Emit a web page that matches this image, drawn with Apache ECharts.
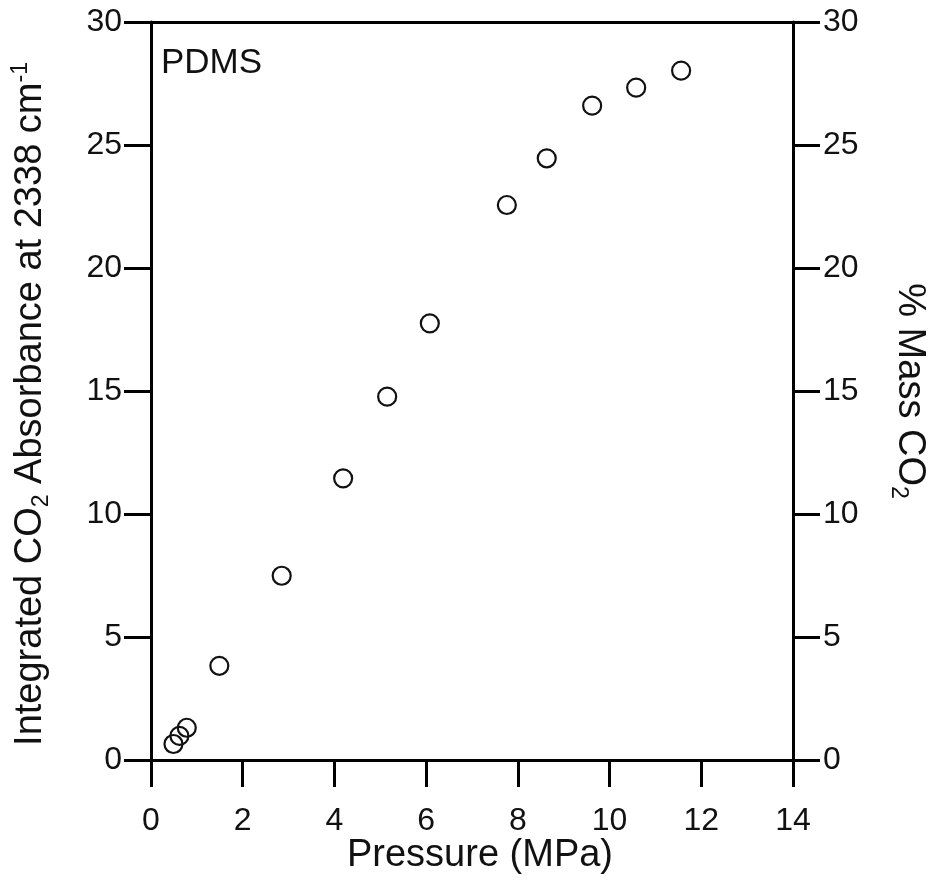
<!DOCTYPE html>
<html>
<head>
<meta charset="utf-8">
<script src="https://cdn.jsdelivr.net/npm/echarts@6/dist/echarts.min.js"></script>
<style>html,body{margin:0;padding:0;background:#fff}#c{width:933px;height:891px}</style>
</head>
<body>
<div id="c"></div>
<script>
// Data
const pressureMPa = [0.49, 0.62, 0.78, 1.49, 2.85, 4.19, 5.15, 6.08, 7.76, 8.63, 9.62, 10.58, 11.56];
const absorbance  = [0.65, 0.98, 1.31, 3.83, 7.49, 11.45, 14.77, 17.75, 22.56, 24.46, 26.6, 27.33, 28.02];
const xTicks = [0, 2, 4, 6, 8, 10, 12, 14];
const yTicks = [0, 5, 10, 15, 20, 25, 30];
const sampleLabel = 'PDMS';

const FONT = '"Liberation Sans", Arial, Helvetica, sans-serif';
const ink = '#111';
const lineStyle = { color: '#000', width: 3 };

const points = pressureMPa.map((x, i) => [x, absorbance[i]]);

const chart = echarts.init(document.getElementById('c'), null, { renderer: 'canvas' });
const labelStyle = { color: ink, fontSize: 32, fontFamily: FONT };
const richName = {
  a: { fontSize: 38, fontFamily: FONT, color: ink, lineHeight: 44, verticalAlign: 'middle' },
  sub: { fontSize: 23, fontFamily: FONT, color: ink, lineHeight: 23, verticalAlign: 'bottom' },
  sup: { fontSize: 23, fontFamily: FONT, color: ink, lineHeight: 23, verticalAlign: 'top' }
};

chart.setOption({
  animation: false,
  backgroundColor: '#fff',
  grid: { left: 151, right: 140, top: 22, bottom: 131, containLabel: false, outerBoundsMode: 'none' },
  xAxis: [
    {
      type: 'value', min: xTicks[0], max: xTicks[xTicks.length - 1], interval: 2,
      position: 'bottom',
      axisLine: { show: true, onZero: false, lineStyle },
      axisTick: { show: true, length: 27, lineStyle },
      axisLabel: Object.assign({ margin: 45 }, labelStyle),
      splitLine: { show: false },
      name: 'Pressure (MPa)', nameLocation: 'middle', nameGap: 77,
      nameMoveOverlap: false,
      nameTextStyle: { fontSize: 38, fontFamily: FONT, color: ink, padding: [0, 0, 0, 16] }
    },
    {
      type: 'value', min: xTicks[0], max: xTicks[xTicks.length - 1],
      position: 'top',
      axisLine: { show: true, onZero: false, lineStyle },
      axisTick: { show: false }, axisLabel: { show: false }, splitLine: { show: false }
    }
  ],
  yAxis: [
    {
      type: 'value', min: yTicks[0], max: yTicks[yTicks.length - 1], interval: 5,
      position: 'left',
      axisLine: { show: true, onZero: false, lineStyle },
      axisTick: { show: true, length: 27, lineStyle },
      axisLabel: Object.assign({ margin: 29 }, labelStyle),
      splitLine: { show: false },
      name: '{a|Integrated CO}{sub|2}{a| Absorbance at 2338 cm}{sup|-1}',
      nameLocation: 'middle', nameGap: 98, nameMoveOverlap: false,
      nameTextStyle: { rich: richName, padding: [0, 26, 0, 0] }
    },
    {
      type: 'value', min: yTicks[0], max: yTicks[yTicks.length - 1], interval: 5,
      position: 'right',
      axisLine: { show: true, onZero: false, lineStyle },
      axisTick: { show: true, length: 27, lineStyle },
      axisLabel: Object.assign({ margin: 30 }, labelStyle),
      splitLine: { show: false },
      name: '{a|% Mass CO}{sub|2}',
      nameLocation: 'middle', nameGap: 94, nameRotate: -90, nameMoveOverlap: false,
      nameTextStyle: { rich: richName }
    }
  ],
  series: [{
    type: 'scatter',
    xAxisIndex: 0, yAxisIndex: 0,
    data: points,
    symbol: 'circle',
    symbolSize: 18,
    itemStyle: { color: 'rgba(0,0,0,0)', borderColor: '#111', borderWidth: 2.2, opacity: 1 }
  }],
  graphic: [{
    type: 'text', left: 161, top: 46,
    style: { text: sampleLabel, fontSize: 35, fontFamily: FONT, fill: ink }
  }]
});
</script>
</body>
</html>
